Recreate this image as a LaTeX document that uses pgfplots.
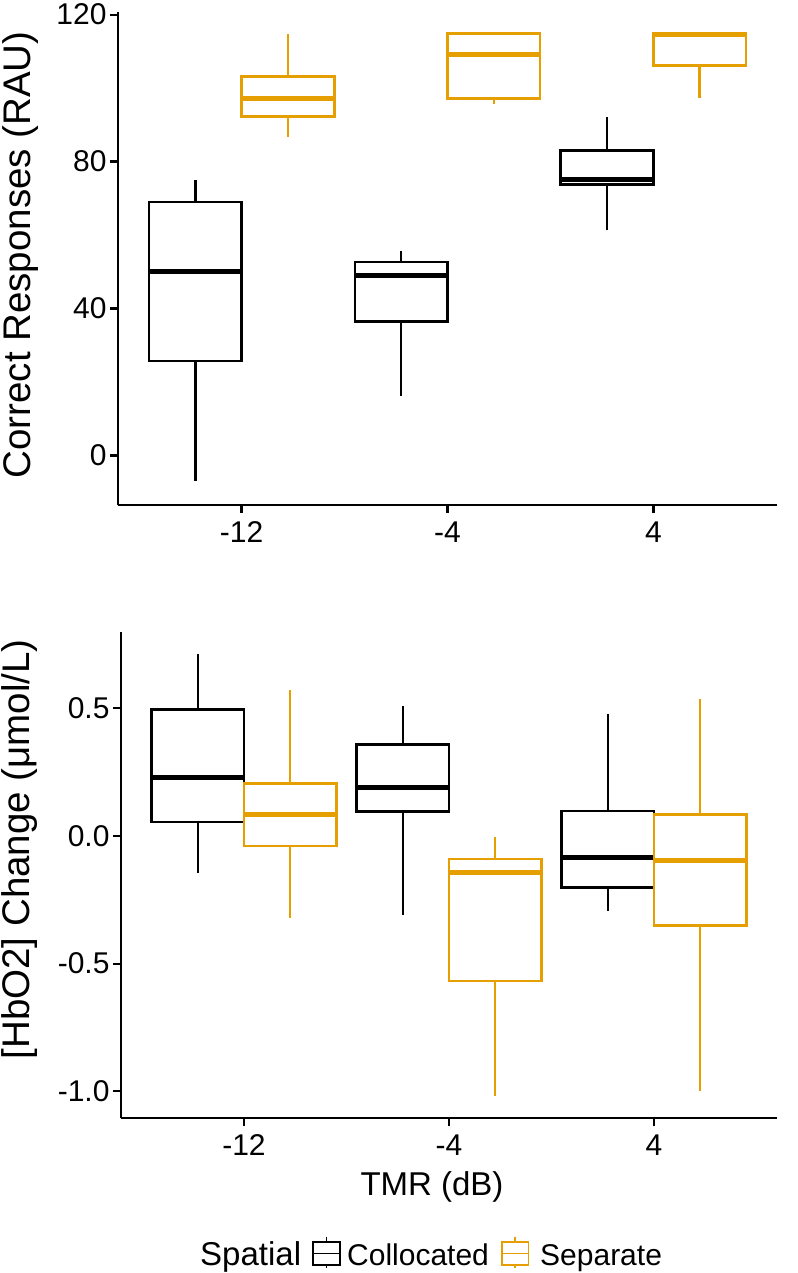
\documentclass[border=0pt]{standalone}
\usepackage{fontspec}
\setmainfont{Liberation Sans}
\usepackage{pgfplots}
\pgfplotsset{compat=1.18}
\usepgfplotslibrary{statistics}
\definecolor{sep}{HTML}{E69F00}
\newcommand{\tickfont}{\fontsize{30}{36}\selectfont}
\newcommand{\titlefont}{\fontsize{33}{40}\selectfont}
\newcommand{\ylabfont}{\fontsize{38.5}{46}\selectfont}
\pgfplotsset{
  gg/.style={
    scale only axis,
    axis x line*=bottom, axis y line*=left,
    axis line style={line width=2.2pt, -},
    xmin=0.4, xmax=3.6,
    xtick={1,2,3}, xticklabels={-12,-4,4},
    tick align=outside, major tick length=8pt,
    every tick/.style={line width=2.2pt, black},
    tick label style={font=\tickfont},
    xticklabel style={yshift=-5pt},
    boxplot/draw direction=y,
    boxplot/box extend=0.45,
    boxplot/whisker extend=0,
    boxplot/every median/.style={line width=5pt},
    boxplot/every whisker/.style={line width=2.6pt},
    boxplot/every box/.style={line width=2.6pt},
    ylabel style={font=\ylabfont, anchor=center, inner sep=0pt, text height=28.1pt, text depth=8.1pt},
  },
  col/.style={draw=black, line width=2.6pt, line join=miter},
  sp/.style={draw=sep, line width=2.6pt, line join=miter},
}
\begin{document}
\begin{tikzpicture}
\path[use as bounding box] (0pt,0pt) rectangle (797pt,-1273pt);
% top panel
\begin{axis}[gg, at={(118pt,-11.7pt)}, anchor=north west, width=659pt, height=493.3pt,
  ymin=-13.5, ymax=120.8, ytick={0,40,80,120}, yticklabels={0,40,80,120},
  ylabel={Correct Responses (RAU)}, ylabel style={at={(axis description cs:-0.1487,0.507)}}]
\addplot[col, boxplot prepared={draw position=0.775, lower whisker=-7.1, lower quartile=25.7, median=50.0, upper quartile=69.0, upper whisker=75.0}] coordinates {};
\addplot[sp, boxplot prepared={draw position=1.225, lower whisker=86.7, lower quartile=92.3, median=97.2, upper quartile=103.2, upper whisker=114.7}] coordinates {};
\addplot[col, boxplot prepared={draw position=1.775, lower whisker=16.3, lower quartile=36.5, median=48.9, upper quartile=52.7, upper whisker=55.7}] coordinates {};
\addplot[sp, boxplot prepared={draw position=2.225, lower whisker=95.8, lower quartile=97.2, median=109.1, upper quartile=114.9, upper whisker=114.9}] coordinates {};
\addplot[col, boxplot prepared={draw position=2.775, lower whisker=61.4, lower quartile=73.8, median=75.0, upper quartile=83.0, upper whisker=92.2}] coordinates {};
\addplot[sp, boxplot prepared={draw position=3.225, lower whisker=97.3, lower quartile=106.2, median=114.7, upper quartile=114.9, upper whisker=114.9}] coordinates {};
\end{axis}
% bottom panel
\begin{axis}[gg, at={(121pt,-631.7pt)}, anchor=north west, width=656pt, height=486.6pt,
  ymin=-1.106, ymax=0.800, ytick={-1,-0.5,0,0.5}, yticklabels={-1.0,-0.5,0.0,0.5},
  ylabel={[HbO2] Change (μmol/L)}, ylabel style={at={(axis description cs:-0.1540,0.553)}}]
\addplot[col, boxplot prepared={draw position=0.775, lower whisker=-0.146, lower quartile=0.054, median=0.228, upper quartile=0.496, upper whisker=0.713}] coordinates {};
\addplot[sp, boxplot prepared={draw position=1.225, lower whisker=-0.322, lower quartile=-0.040, median=0.085, upper quartile=0.206, upper whisker=0.572}] coordinates {};
\addplot[col, boxplot prepared={draw position=1.775, lower whisker=-0.309, lower quartile=0.095, median=0.189, upper quartile=0.359, upper whisker=0.509}] coordinates {};
\addplot[sp, boxplot prepared={draw position=2.225, lower whisker=-1.017, lower quartile=-0.568, median=-0.144, upper quartile=-0.091, upper whisker=-0.005}] coordinates {};
\addplot[col, boxplot prepared={draw position=2.775, lower whisker=-0.293, lower quartile=-0.201, median=-0.083, upper quartile=0.098, upper whisker=0.477}] coordinates {};
\addplot[sp, boxplot prepared={draw position=3.225, lower whisker=-0.999, lower quartile=-0.351, median=-0.098, upper quartile=0.085, upper whisker=0.537}] coordinates {};
\end{axis}
% x title
\node[font=\titlefont, anchor=base, inner sep=0pt] at (432pt,-1195pt) {TMR (dB)};
% legend
\node[font=\titlefont, anchor=base west, inner sep=0pt] at (200pt,-1265pt) {Spatial};
\draw[line width=1.6pt, black] (326.5pt,-1236.7pt) -- (326.5pt,-1241.7pt) (326.5pt,-1265pt) -- (326.5pt,-1268pt);
\draw[line width=1.6pt, black] (313pt,-1241.7pt) rectangle (340pt,-1265pt);
\draw[line width=1.6pt, black] (313pt,-1253.3pt) -- (340pt,-1253.3pt);
\node[font=\tickfont, anchor=base west, inner sep=0pt] at (347pt,-1265pt) {Collocated};
\draw[line width=1.6pt, sep] (515pt,-1236.7pt) -- (515pt,-1241.7pt) (515pt,-1265pt) -- (515pt,-1268pt);
\draw[line width=1.6pt, sep] (501.7pt,-1241.7pt) rectangle (528.3pt,-1265pt);
\draw[line width=1.6pt, sep] (501.7pt,-1253.3pt) -- (528.3pt,-1253.3pt);
\node[font=\tickfont, anchor=base west, inner sep=0pt] at (540pt,-1265pt) {Separate};
\end{tikzpicture}
\end{document}
